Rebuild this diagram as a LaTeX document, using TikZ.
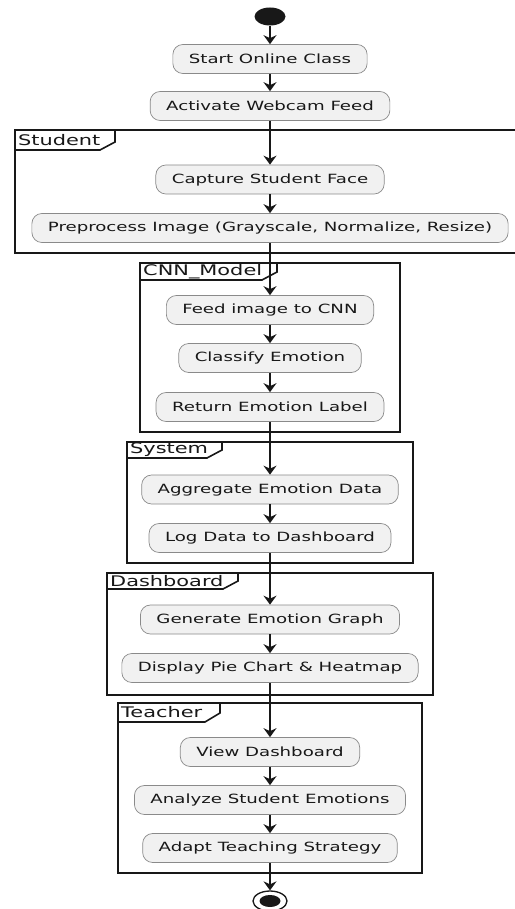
\documentclass[tikz,border=0pt]{standalone}
\usepackage{xcolor}
\usepackage{fontspec}
\usetikzlibrary{arrows.meta,shapes.geometric}
\newfontfamily\umlfont[FakeStretch=1.43]{DejaVu Sans}
\definecolor{umldark}{HTML}{181818}
\definecolor{actfill}{HTML}{F1F1F1}
\definecolor{actline}{HTML}{8A8A8A}

\tikzset{
  act/.style={draw=actline, line width=0.7pt, fill=actfill, rounded corners=10pt,
    minimum height=29pt, inner xsep=16pt, font=\umlfont\fontsize{12.7}{14}\selectfont,
    text=umldark},
  flow/.style={draw=umldark, line width=1.3pt,
    -{Stealth[length=9pt,width=13pt,inset=3pt]}},
  frame/.style={draw=umldark, line width=1.6pt},
  framelabel/.style={anchor=west, inner sep=1pt, text=umldark,
    font=\umlfont\fontsize{14.6}{16}\selectfont},
}

\begin{document}
\begin{tikzpicture}[x=1pt,y=-1pt]
          \useasboundingbox (0,0) rectangle (514,909);
          \fill[white] (0,0) rectangle (514,909);

          % partitions
          \draw[frame] (15,130) rectangle (530,253);
          \draw[frame] (15,150) -- (100,150) -- (115,142) -- (115,130);
          \node[framelabel] at (17,140) {Student};

          \draw[frame] (140,263) rectangle (400,432);
          \draw[frame] (140,280) -- (262,280) -- (277,272) -- (277,263);
          \node[framelabel] at (142,271.5) {CNN\_Model};

          \draw[frame] (127,442) rectangle (413,563);
          \draw[frame] (127,458) -- (207,458) -- (222,450) -- (222,442);
          \node[framelabel] at (129,450) {System};

          \draw[frame] (107,573) rectangle (433,695);
          \draw[frame] (107,589) -- (223,589) -- (238,581) -- (238,573);
          \node[framelabel] at (109,581) {Dashboard};

          \draw[frame] (118,703) rectangle (422,873);
          \draw[frame] (118,722) -- (205,722) -- (220,713) -- (220,703);
          \node[framelabel] at (120,712.5) {Teacher};

          % activities
          \node[ellipse, fill=umldark, minimum width=31pt, minimum height=18pt, inner sep=0pt] (start) at (270,16.5) {};
          \node[act] (s1) at (270,59) {Start Online Class};
          \node[act] (s2) at (270,106) {Activate Webcam Feed};
          \node[act] (s3) at (270,179.5) {Capture Student Face};
          \node[act] (s4) at (270,228) {Preprocess Image (Grayscale, Normalize, Resize)};
          \node[act] (s5) at (270,310) {Feed image to CNN};
          \node[act] (s6) at (270,358) {Classify Emotion};
          \node[act] (s7) at (270,407) {Return Emotion Label};
          \node[act] (s8) at (270,489.5) {Aggregate Emotion Data};
          \node[act] (s9) at (270,538) {Log Data to Dashboard};
          \node[act] (s10) at (270,619.5) {Generate Emotion Graph};
          \node[act] (s11) at (270,668) {Display Pie Chart \& Heatmap};
          \node[act] (s12) at (270,752) {View Dashboard};
          \node[act] (s13) at (270,800) {Analyze Student Emotions};
          \node[act] (s14) at (270,848) {Adapt Teaching Strategy};
          \node[ellipse, draw=umldark, line width=1.3pt, fill=white, minimum width=34pt, minimum height=20pt, inner sep=0pt] (end) at (270,901) {};
          \fill[umldark] (end.center) ellipse [x radius=10.5pt, y radius=6pt];

          \draw[flow] (start) -- (s1);
          \foreach \a/\b in {s1/s2,s2/s3,s3/s4,s4/s5,s5/s6,s6/s7,s7/s8,s8/s9,s9/s10,s10/s11,s11/s12,s12/s13,s13/s14,s14/end}
            \draw[flow] (\a) -- (\b);

          \end{tikzpicture}
\end{document}
